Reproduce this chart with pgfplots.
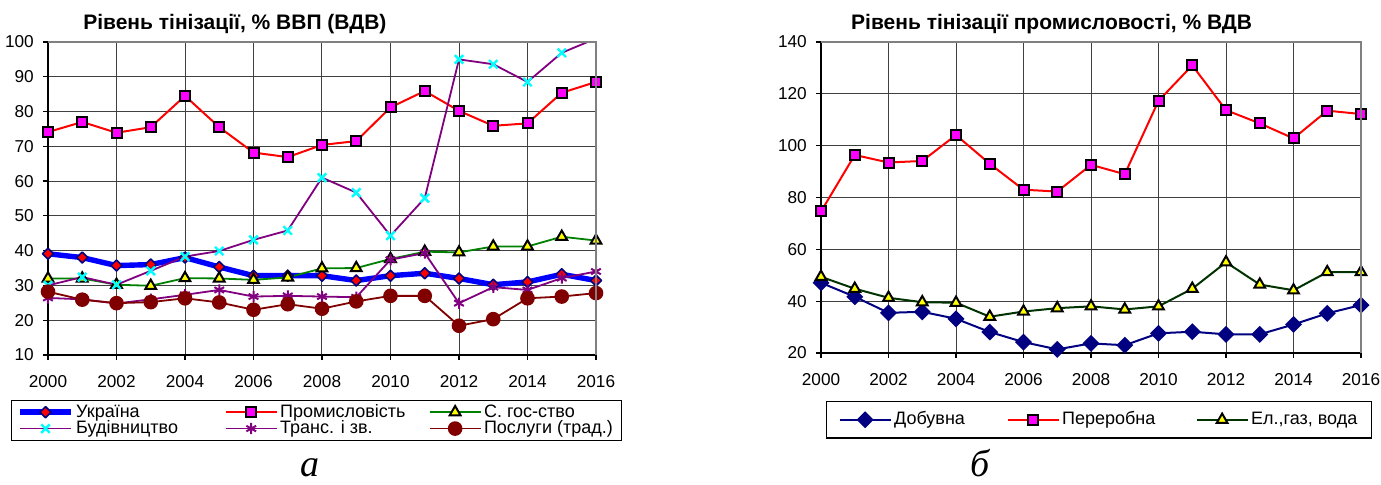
\documentclass[border=0pt]{standalone}
\usepackage{fontspec}
\setmainfont{Liberation Sans}
\newfontfamily\serifit{Liberation Serif}
\usepackage{pgfplots}
\pgfplotsset{compat=1.18}
\usepackage{pgfplotstable}

\definecolor{cprom}{HTML}{FF0000}
\definecolor{cmag}{HTML}{FF00FF}
\definecolor{cgreen}{HTML}{008000}
\definecolor{cpurp}{HTML}{800080}
\definecolor{ccyan}{HTML}{00FFFF}
\definecolor{cbrown}{HTML}{800000}
\definecolor{cnavy}{HTML}{000080}
\definecolor{cdgreen}{HTML}{003300}
\definecolor{cyel}{HTML}{FFFF00}
\definecolor{cblue}{HTML}{0000FF}

\pgfplotstableread{
year ukr prom agr bud tra pos
2000 39.1 74.1 32.0 30.0 26.4 28.2
2001 38.0 77.0 32.0 32.4 26.0 25.9
2002 35.7 73.9 30.2 30.2 24.8 24.9
2003 36.0 75.5 29.9 34.2 26.0 25.2
2004 38.0 84.5 32.1 38.3 27.3 26.3
2005 35.3 75.5 32.0 39.9 28.7 25.1
2006 32.8 68.2 31.6 43.1 26.8 23.0
2007 32.8 66.9 32.3 45.8 27.0 24.6
2008 32.8 70.4 34.9 61.0 26.8 23.3
2009 31.4 71.5 35.0 56.7 26.6 25.4
2010 32.8 81.2 37.6 44.3 37.4 27.0
2011 33.5 85.9 39.7 55.1 39.3 27.0
2012 32.0 80.2 39.5 95.0 24.9 18.4
2013 30.2 75.9 41.2 93.6 29.5 20.3
2014 31.0 76.6 41.2 88.5 28.7 26.3
2015 33.2 85.4 44.0 96.9 32.1 26.8
2016 31.4 88.5 42.9 101.0 34.0 27.8
}\tabA

\pgfplotstableread{
year dob per el
2000 47.1 74.6 49.4
2001 41.7 96.4 44.8
2002 35.5 93.5 41.3
2003 35.9 94.1 39.6
2004 33.2 104.1 39.4
2005 28.1 93.0 34.0
2006 24.2 83.0 36.0
2007 21.4 82.3 37.3
2008 23.7 92.6 38.0
2009 23.0 89.0 36.8
2010 27.6 117.3 38.0
2011 28.2 131.0 44.8
2012 27.2 113.7 55.0
2013 27.2 108.6 46.4
2014 31.0 102.8 44.2
2015 35.3 113.5 51.2
2016 38.5 112.2 51.2
}\tabB

\pgfplotsset{
  mystyle/.style={
    scale only axis,
    xmin=2000, xmax=2016,
    xtick={2000,2002,...,2016},
    grid=major,
    major grid style={black!75, line width=0.5pt},
    axis x line*=bottom, axis y line*=left,
    axis line style={black, line width=0.8pt},
    tick align=outside, major tick length=2.5pt,
    tick style={black, line width=0.6pt},
    ticklabel style={font=\fontsize{8.6}{10}\selectfont},
    /pgf/number format/assume math mode=true,
    /pgf/number format/1000 sep={},
    xticklabel style={yshift=-4.3pt},
    yticklabel style={xshift=-1.1pt},
    legend cell align=left,
    legend image code/.code={\draw[mark repeat=2,mark phase=2] plot coordinates {(0pt,0pt) (12.75pt,0pt) (25.5pt,0pt)};},
    title style={font=\bfseries\fontsize{10.5}{12}\selectfont, anchor=base},
    after end axis/.code={\draw[black!50, line width=1pt] (rel axis cs:0,1) -- (rel axis cs:1,1) -- (rel axis cs:1,0);},
  },
}

\begin{document}
\begin{tikzpicture}
\useasboundingbox (0,0) rectangle (690.5pt,-242.5pt);

\begin{axis}[mystyle,
  at={(24pt,-21pt)}, anchor=north west,
  width=274pt, height=156.5pt,
  ymin=10, ymax=100, ytick={10,20,...,100},
  title={Рівень тінізації, \% ВВП (ВДВ)},
  title style={at={(axis description cs:0.341,1.0)}},
  legend columns=3,
  legend style={at={(axis description cs:-0.068,-0.1438)}, anchor=north west,
    draw=black, line width=0.6pt, fill=white,
    font=\fontsize{9}{9}\selectfont, column sep=0pt,
    inner xsep=3pt, inner ysep=1.7pt,
    nodes={inner xsep=1.25pt, inner ysep=0pt, text height=6.6pt, text depth=1.6pt}},
]
\addplot[cblue, line width=2.7pt, line join=round, mark=square*, mark size=1.95pt,
  mark options={rotate=45, fill=red, draw=cnavy, line width=0.8pt}] table[x=year,y=ukr] {\tabA};
\addlegendentry{\makebox[73pt][l]{Україна}}
\addplot[cprom, line width=1pt, mark=square*, mark size=2.5pt,
  mark options={fill=cmag, draw=black, line width=1pt}] table[x=year,y=prom] {\tabA};
\addlegendentry{\makebox[73pt][l]{Промисловість}}
\addplot[cgreen, line width=0.9pt, mark=triangle*, mark size=3.1pt,
  mark options={fill=cyel, draw=black, line width=1pt}] table[x=year,y=agr] {\tabA};
\addlegendentry{С. гос-ство}
\addplot[cpurp, line width=0.9pt, mark=x, mark size=3pt,
  mark indices={1,2,3,4,5,6,7,8,9,10,11,12,13,14,15,16},
  legend image post style={mark indices={2}},
  mark options={draw=ccyan, line width=1.2pt}] table[x=year,y=bud] {\tabA};
\addlegendentry{\makebox[73pt][l]{Будівництво}}
\addplot[cpurp, line width=0.9pt, mark=asterisk, mark size=2.8pt,
  mark options={draw=cpurp, line width=1pt}] table[x=year,y=tra] {\tabA};
\addlegendentry{\makebox[73pt][l]{Транс. і зв.}}
\addplot[cbrown, line width=0.9pt, mark=*, mark size=3.2pt,
  mark options={fill=cbrown, draw=cbrown}] table[x=year,y=pos] {\tabA};
\addlegendentry{Послуги (трад.)}
\end{axis}

\begin{axis}[mystyle,
  at={(410.5pt,-21pt)}, anchor=north west,
  width=270pt, height=155.5pt,
  ymin=20, ymax=140, ytick={20,40,...,140},
  title={Рівень тінізації промисловості, \% ВДВ},
  title style={at={(axis description cs:0.427,1.0)}},
  legend columns=3,
  legend style={at={(axis description cs:0.0093,-0.1543)}, anchor=north west,
    draw=black, line width=0.6pt, fill=white,
    font=\fontsize{9}{9}\selectfont, column sep=0pt,
    inner xsep=6pt, inner ysep=5pt,
    nodes={inner xsep=1.25pt, inner ysep=0pt, text height=6.6pt, text depth=1.6pt}},
]
\addplot[cnavy, line width=1pt, mark=square*, mark size=2.5pt,
  mark options={rotate=45, fill=cnavy, draw=cnavy}] table[x=year,y=dob] {\tabB};
\addlegendentry{\makebox[55pt][l]{Добувна}}
\addplot[cprom, line width=1pt, mark=square*, mark size=2.5pt,
  mark options={fill=cmag, draw=black, line width=1pt}] table[x=year,y=per] {\tabB};
\addlegendentry{\makebox[65.5pt][l]{Переробна}}
\addplot[cdgreen, line width=1pt, mark=triangle*, mark size=3.1pt,
  mark options={fill=cyel, draw=black, line width=1pt}] table[x=year,y=el] {\tabB};
\addlegendentry{Ел.,газ, вода}
\end{axis}

\node[inner sep=0pt, anchor=base, font=\serifit\itshape\fontsize{19}{19}\selectfont] at (155pt,-238.2pt) {а};
\node[inner sep=0pt, anchor=base, font=\serifit\itshape\fontsize{19}{19}\selectfont] at (490pt,-238.2pt) {б};
\end{tikzpicture}
\end{document}
